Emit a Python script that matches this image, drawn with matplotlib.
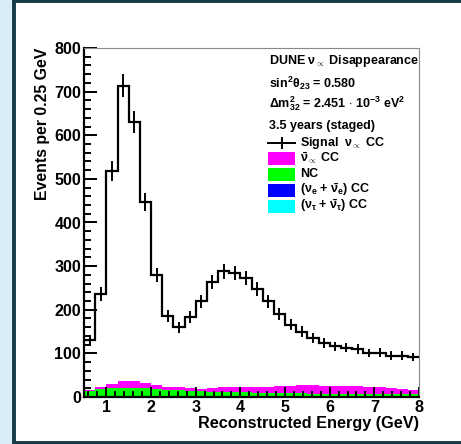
import numpy as np
import matplotlib
matplotlib.use("Agg")
import matplotlib.pyplot as plt
from matplotlib.patches import Rectangle
from matplotlib.lines import Line2D

plt.rcParams["font.family"] = ["Liberation Sans", "DejaVu Sans"]
plt.rcParams["font.weight"] = "bold"
plt.rcParams["mathtext.fontset"] = "custom"
plt.rcParams["mathtext.rm"] = "Liberation Sans:bold"
plt.rcParams["mathtext.it"] = "Liberation Sans:bold"
plt.rcParams["mathtext.bf"] = "Liberation Sans:bold"

# reconstructed energy binning (0.25 GeV bins)
bin_edges = np.arange(0.5, 8.01, 0.25)

signal_numu = [131, 236, 519, 714, 630, 447, 280, 186, 160, 183,
               219, 263, 288, 284, 273, 248, 219, 191, 166, 150,
               135, 124, 116, 113, 110, 101, 102, 95, 95, 92]

nutau_cc = [0, 0, 0, 0, 0, 0, 0, 0, 0, 0,
            0.5, 0.5, 1, 1, 1, 1, 1, 1, 1, 1,
            1, 1, 1, 1, 1, 1, 1, 1, 1, 1]
nue_cc = [1.5, 1.5, 1.5, 1.5, 1.5, 1.5, 1.5, 1.5, 1.5, 1.5,
          1.5, 1.5, 1.5, 1.5, 1.5, 1.5, 1.5, 1.5, 1.5, 1.5,
          1.5, 1.5, 1.5, 1.5, 1.5, 1.5, 1.5, 1.5, 1.5, 1.5]
nc = [13, 17, 18.5, 19, 19, 18, 16, 15, 14, 12.5,
      11, 10, 9, 8.5, 8, 7.5, 7, 6.5, 6, 6,
      5.5, 5.5, 5, 5, 5, 4.5, 4.5, 4.5, 4, 4]
numubar_cc = [2.5, 3.5, 9, 15.5, 16, 12.5, 9.5, 7.5, 6.5, 7,
              6, 8.5, 10.5, 11, 12.5, 14, 14.5, 16, 17.5, 18.5,
              19, 18, 17.5, 17.5, 17, 17, 15, 13, 11.5, 10]

fig = plt.figure(figsize=(4.61, 4.44), dpi=100)
fig.patch.set_facecolor("#d8edf8")
fig.patches.append(Rectangle((14 / 461, 1.5 / 444), 1.2, 441 / 444,
                             transform=fig.transFigure, facecolor="white",
                             edgecolor="#173a48", linewidth=2.8, zorder=-5))

ax = fig.add_axes([84 / 461, 47 / 444, 335 / 461, 349 / 444])
ax.set_facecolor("none")

# stacked backgrounds, bottom to top
bottom = np.zeros(len(signal_numu))
stack = [(nutau_cc, "#00ffff"), (nue_cc, "#0000ff"),
         (nc, "#00ff00"), (numubar_cc, "#ff00ff")]
for vals, col in stack:
    top = bottom + np.array(vals)
    ax.stairs(top, bin_edges, baseline=bottom, fill=True, color=col,
              linewidth=0, zorder=1)
    bottom = top

# signal histogram with statistical errors
sig = np.array(signal_numu, dtype=float)
centers = 0.5 * (bin_edges[:-1] + bin_edges[1:])
ax.stairs(sig, bin_edges, baseline=None, color="black", linewidth=1.6,
          zorder=3)
ax.errorbar(centers, sig, yerr=np.sqrt(sig), fmt="none", ecolor="black",
            elinewidth=1.4, capsize=0, zorder=3)

ax.set_xlim(0.5, 8)
ax.set_ylim(0, 800)
ax.set_xticks(np.arange(1, 9))
ax.set_xticks(np.arange(0.6, 8.01, 0.2), minor=True)
ax.set_yticks(np.arange(0, 801, 100))
ax.set_yticks(np.arange(0, 801, 20), minor=True)

for side in ("top", "right"):
    ax.spines[side].set_color("#888888")
    ax.spines[side].set_linewidth(0.8)
for side in ("left", "bottom"):
    ax.spines[side].set_linewidth(1.6)

ax.tick_params(axis="both", which="both", direction="in", top=False,
               right=False, width=1.4, labelsize=11.6)
ax.tick_params(axis="y", which="major", length=9, pad=2)
ax.tick_params(axis="y", which="minor", length=5)
ax.tick_params(axis="x", which="major", length=7, pad=2)
ax.tick_params(axis="x", which="minor", length=4)
for lab in ax.get_xticklabels() + ax.get_yticklabels():
    lab.set_fontweight("bold")

ax.set_xlabel("Reconstructed Energy (GeV)", fontsize=11.7, fontweight="bold",
              loc="right", labelpad=1)
ax.set_ylabel("Events per 0.25 GeV", fontsize=11.4, fontweight="bold",
              loc="top", labelpad=3)

# header text and legend
tx = 269 / 461
fs = 9.0
fig.text(tx, 1 - 61 / 444, r"DUNE $\nu_{\propto}$ Disappearance", fontsize=fs,
         va="center", fontweight="bold")
fig.text(tx, 1 - 83 / 444, r"sin$^{2}\theta_{23}$ = 0.580", fontsize=fs,
         va="center", fontweight="bold")
fig.text(tx, 1 - 104 / 444, r"$\Delta$m$^{2}_{32}$ = 2.451 $\cdot$ 10$^{-3}$ eV$^{2}$",
         fontsize=fs, va="center", fontweight="bold")
fig.text(tx, 1 - 126 / 444, "3.5 years (staged)", fontsize=fs,
         va="center", fontweight="bold")

# signal entry marker
ys = 1 - 143 / 444
fig.add_artist(Line2D([268 / 461, 295 / 461], [ys, ys], color="black",
                      linewidth=1.4, transform=fig.transFigure))
fig.add_artist(Line2D([281.5 / 461, 281.5 / 461], [ys - 5 / 444, ys + 5 / 444],
                      color="black", linewidth=1.4, transform=fig.transFigure))
fig.text(300 / 461, ys, r"Signal  $\nu_{\propto}$ CC", fontsize=fs,
         va="center", fontweight="bold")

legend_rows = [(158, "#ff00ff", r"$\bar{\nu}_{\propto}$ CC"),
               (174, "#00ff00", "NC"),
               (190, "#0000ff", r"($\nu_{e}$ + $\bar{\nu}_{e}$) CC"),
               (206, "#00ffff", r"($\nu_{\tau}$ + $\bar{\nu}_{\tau}$) CC")]
for ypix, col, lab in legend_rows:
    fig.patches.append(Rectangle((268 / 461, 1 - (ypix + 7) / 444), 27 / 461,
                                 13 / 444, transform=fig.transFigure,
                                 facecolor=col, edgecolor="none"))
    fig.text(300 / 461, 1 - ypix / 444, lab, fontsize=fs, va="center",
             fontweight="bold")

fig.savefig("out.png", dpi=100, facecolor=fig.get_facecolor())
